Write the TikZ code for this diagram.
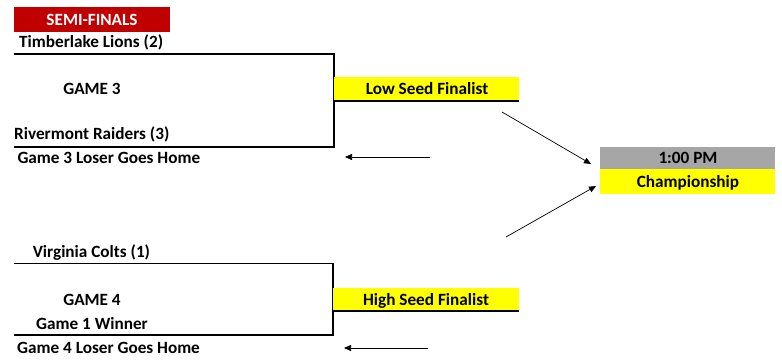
\documentclass[tikz,border=0pt]{standalone}
\usepackage{fontspec}
\setmainfont{Carlito}
\usetikzlibrary{arrows.meta}
\definecolor{semired}{HTML}{C00000}
\definecolor{hlyellow}{HTML}{FFFF00}
\definecolor{timegray}{HTML}{A6A6A6}
\tikzset{
  lbl/.style={font=\fontsize{17.2}{19}\selectfont\bfseries, inner sep=0pt},
  lleft/.style={lbl, anchor=base west},
  lmid/.style={lbl, anchor=base},
  bracket/.style={line width=1.7pt, line join=miter},
  feed/.style={line width=0.7pt, -{Triangle[length=7pt,width=6pt]}},
}
\begin{document}
\begin{tikzpicture}[x=1pt,y=-1pt]
\useasboundingbox (0,0) rectangle (782,363);
% header
\fill[semired] (14,7) rectangle (170,32);
\node[lmid, text=white] (semi) at (92,25.7) {SEMI-FINALS};
% top bracket
\node[lleft] (tl) at (19,47.7) {Timberlake Lions (2)};
\node[lmid] (g3) at (92,95) {GAME 3};
\node[lleft] (rr) at (14,140) {Rivermont Raiders (3)};
\node[lleft] (g3l) at (17.3,163.3) {Game 3 Loser Goes Home};
\draw[bracket] (14,54) -- (334,54) -- (334,147) -- (14,147);
\fill[hlyellow] (334,77) rectangle (519,101);
\draw[bracket] (334,101) -- (519,101);
\node[lmid] (lsf) at (427,95) {Low Seed Finalist};
% championship
\fill[timegray] (600,147) rectangle (775,169);
\fill[hlyellow] (600,169) rectangle (775,194);
\node[lmid] (time) at (688,164) {1:00 PM};
\node[lmid] (champ) at (688,188) {Championship};
% bottom bracket
\node[lleft] (vc) at (32.6,258) {Virginia Colts (1)};
\node[lmid] (g4) at (92,306) {GAME 4};
\node[lmid] (g1w) at (92,330) {Game 1 Winner};
\node[lleft] (g4l) at (17,353) {Game 4 Loser Goes Home};
\draw[bracket] (14,263.5) -- (333,263.5) -- (333,335) -- (14,335);
\fill[hlyellow] (333,288) rectangle (519,311);
\draw[bracket] (333,311) -- (519,311);
\node[lmid] (hsf) at (426,306) {High Seed Finalist};
% arrows
\coordinate (a1s) at (430,157);
\coordinate (a1e) at (345,157);
\coordinate (a2s) at (502,112);
\coordinate (a2e) at (591,164);
\coordinate (a3s) at (506,237);
\coordinate (a3e) at (596,186);
\coordinate (a4s) at (428,348);
\coordinate (a4e) at (344,348);
\draw[feed] (a1s) -- (a1e);
\draw[feed] (a2s) -- (a2e);
\draw[feed] (a3s) -- (a3e);
\draw[feed] (a4s) -- (a4e);
\end{tikzpicture}
\end{document}
